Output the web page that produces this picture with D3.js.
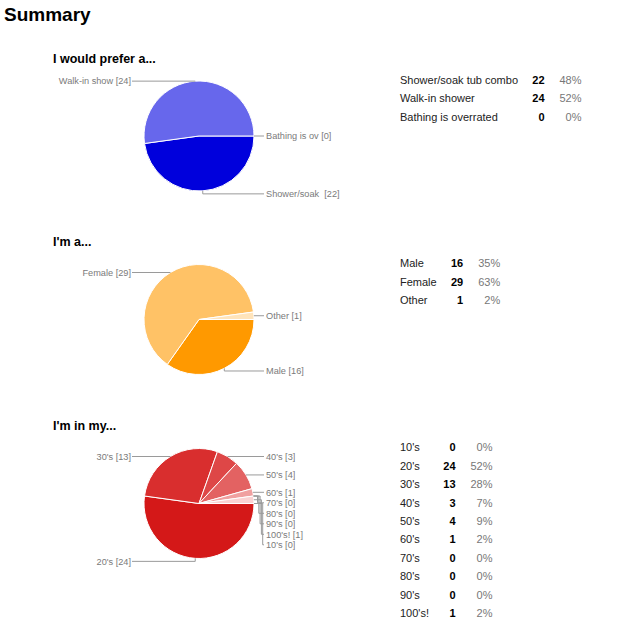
<!DOCTYPE html>
<html>
<head>
<meta charset="utf-8">
<script src="https://cdn.jsdelivr.net/npm/d3@7/dist/d3.min.js"></script>
<style>
  html, body { margin: 0; padding: 0; background: #fff; }
  svg { display: block; font-family: "Liberation Sans", Arial, Helvetica, sans-serif; }
</style>
</head>
<body>
<svg id="chart" width="637" height="640"></svg>
<script>
// ---- data ----
const prefTitle = "I would prefer a...";
const prefCategories = ["Shower/soak tub combo", "Walk-in shower", "Bathing is overrated"];
const prefShort = ["Shower/soak ", "Walk-in show", "Bathing is ov"];
const prefValues = [22, 24, 0];
const prefColors = ["#0000dc", "#6767ec", "#c2c2f7"];

const genderTitle = "I'm a...";
const genderCategories = ["Male", "Female", "Other"];
const genderShort = ["Male", "Female", "Other"];
const genderValues = [16, 29, 1];
const genderColors = ["#ff9900", "#ffc266", "#ffe4bb"];

const ageTitle = "I'm in my...";
const ageCategories = ["10's", "20's", "30's", "40's", "50's", "60's", "70's", "80's", "90's", "100's!"];
const ageShort = ["10's", "20's", "30's", "40's", "50's", "60's", "70's", "80's", "90's", "100's!"];
const ageValues = [0, 24, 13, 3, 4, 1, 0, 0, 0, 1];
const ageColors = ["#cf0f0f", "#d41818", "#d92e2e", "#de4747", "#e36262", "#f0a0a0", "#f4b4b4", "#f6c0c0", "#f8c8c8", "#fad2d2"];

// ---- layout ----
const svg = d3.select("#chart");
svg.append("text").attr("x", 4).attr("y", 21)
  .attr("font-size", 19).attr("font-weight", "bold").attr("fill", "#000")
  .text("Summary");

const sections = [
  {title: prefTitle, cats: prefCategories, short: prefShort, vals: prefValues, colors: prefColors, top: 62.5},
  {title: genderTitle, cats: genderCategories, short: genderShort, vals: genderValues, colors: genderColors, top: 246},
  {title: ageTitle, cats: ageCategories, short: ageShort, vals: ageValues, colors: ageColors, top: 430}
];

const R = 55, CX = 199;
const labelFont = 9.2, labelGap = 10.5;

sections.forEach(sec => {
  const cy = sec.top + 73.5;
  svg.append("text").attr("x", 53).attr("y", sec.top)
    .attr("font-size", 12.5).attr("font-weight", "bold").attr("fill", "#000")
    .text(sec.title);

  const pie = d3.pie().sort(null).value(d => d)
    .startAngle(Math.PI / 2).endAngle(Math.PI / 2 + 2 * Math.PI);
  const arcs = pie(sec.vals);
  const arc = d3.arc().innerRadius(0).outerRadius(R);
  const g = svg.append("g").attr("transform", `translate(${CX},${cy})`);
  g.selectAll("path").data(arcs.filter(a => a.value > 0)).join("path")
    .attr("d", arc)
    .attr("fill", a => sec.colors[a.index])
    .attr("stroke", "#fff").attr("stroke-width", 1).attr("stroke-linejoin", "round");

  // labels
  const labels = arcs.map(a => {
    const m = (a.startAngle + a.endAngle) / 2;
    const ex = CX + R * Math.sin(m);
    const s = -Math.cos(m);
    const ey = cy + R * s;
    const base = ey + 3 * Math.max(0, s);
    return {i: a.index, ex, ey, base, y: base, right: ex >= CX - 0.01,
            text: sec.short[a.index] + " [" + sec.vals[a.index] + "]"};
  });
  [true, false].forEach(side => {
    const list = labels.filter(l => l.right === side).sort((a, b) => a.base - b.base || a.i - b.i);
    for (let k = 1; k < list.length; k++) {
      if (list[k].y < list[k - 1].y + labelGap) list[k].y = list[k - 1].y + labelGap;
    }
    let k = 0;
    list.forEach(l => {
      const tx = side ? CX + R + 12 : CX - R - 13;
      const lineEnd = side ? tx - 2 : tx + 1;
      let d;
      if (Math.abs(l.y - l.base) < 0.5) {
        d = `M${l.ex},${l.ey}V${l.y}H${lineEnd}`;
      } else {
        const elbow = side ? CX + R + 3.5 + k * 1.3 : CX - R - 3.5 - k * 1.3;
        k++;
        d = `M${l.ex},${l.ey}H${elbow}V${l.y}H${lineEnd}`;
      }
      svg.append("path").attr("d", d).attr("fill", "none")
        .attr("stroke", "#9a9a9a").attr("stroke-width", 1);
      svg.append("text").attr("x", tx).attr("y", l.y).attr("dy", "0.35em")
        .attr("text-anchor", side ? "start" : "end")
        .attr("font-size", labelFont).attr("fill", "#7a7a7a")
        .style("white-space", "pre")
        .text(l.text);
    });
  });

  // table
  const total = d3.sum(sec.vals);
  const tg = svg.append("g");
  const rowY = i => cy - 56 + i * 18.4;
  const lab = tg.selectAll("text.lab").data(sec.cats).join("text")
    .attr("class", "lab").attr("x", 400).attr("y", (d, i) => rowY(i)).attr("dy", "0.35em")
    .attr("font-size", 11).attr("fill", "#222").text(d => d);
  let maxW = 0;
  lab.each(function() { maxW = Math.max(maxW, this.getComputedTextLength()); });
  const countRight = 400 + maxW + 26.5;
  const pctRight = countRight + 37;
  tg.selectAll("text.cnt").data(sec.vals).join("text")
    .attr("class", "cnt").attr("x", countRight).attr("y", (d, i) => rowY(i)).attr("dy", "0.35em")
    .attr("text-anchor", "end").attr("font-size", 11).attr("font-weight", "bold").attr("fill", "#000")
    .text(d => d);
  tg.selectAll("text.pct").data(sec.vals).join("text")
    .attr("class", "pct").attr("x", pctRight).attr("y", (d, i) => rowY(i)).attr("dy", "0.35em")
    .attr("text-anchor", "end").attr("font-size", 11).attr("fill", "#777")
    .text(d => Math.round(d / total * 100) + "%");
});
</script>
</body>
</html>
